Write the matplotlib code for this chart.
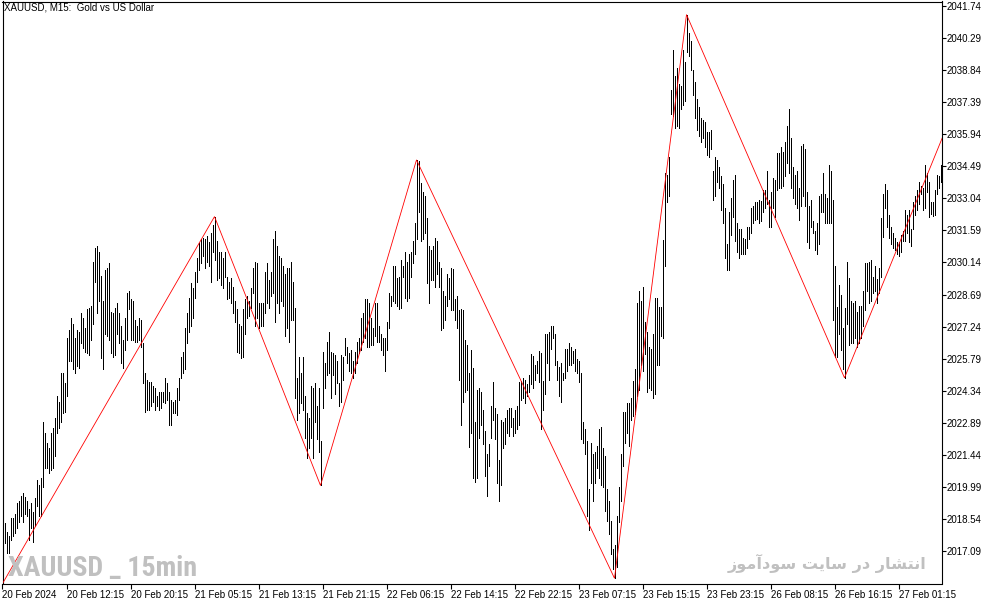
import matplotlib
matplotlib.use("Agg")
import matplotlib.pyplot as plt
from matplotlib import font_manager as fm

# ---------------- data (XAUUSD M15) ----------------
highs = [
 2018.36,2017.95,2017.81,2018.62,2018.58,2018.80,2019.30,2019.39,2019.58,2019.71,
 2019.53,2019.39,2019.03,2019.26,2018.85,2019.49,2020.30,2020.07,2020.39,2022.92,
 2022.42,2021.97,2021.74,2022.46,2022.65,2023.10,2024.13,2023.82,2025.17,2025.13,
 2024.68,2026.75,2027.07,2027.61,2027.38,2026.75,2027.07,2027.02,2027.84,2027.65,
 2027.20,2028.06,2028.10,2028.19,2030.14,2030.81,2030.90,2030.59,2029.55,2028.42,
 2029.78,2029.91,2030.10,2027.88,2027.84,2028.10,2028.33,2027.84,2027.29,2026.62,
 2027.65,2028.74,2028.87,2028.51,2028.42,2027.52,2027.29,2027.65,2027.52,2026.49,
 2025.17,2024.81,2024.72,2024.72,2024.58,2024.45,2024.13,2024.27,2024.27,2024.27,
 2024.94,2024.68,2024.27,2023.91,2023.82,2023.91,2024.45,2024.90,2025.85,2026.08,
 2027.16,2027.84,2028.55,2029.19,2028.97,2029.69,2030.36,2031.00,2031.22,2031.26,
 2031.22,2031.35,2031.04,2031.49,2031.81,2032.21,2031.13,2030.59,2030.59,2030.32,
 2030.59,2029.46,2029.24,2029.42,2029.01,2028.42,2028.06,2027.38,2027.29,2028.06,
 2028.51,2028.64,2028.42,2028.97,2029.87,2030.14,2030.10,2028.33,2028.33,2028.30,
 2029.69,2030.10,2029.33,2029.69,2031.22,2031.58,2030.90,2030.45,2030.36,2030.00,
 2029.64,2029.87,2029.91,2030.14,2029.24,2028.10,2024.94,2025.85,2025.17,2025.85,
 2024.13,2023.33,2023.10,2024.58,2024.49,2024.68,2023.68,2024.49,2022.10,2026.08,
 2025.58,2026.53,2026.98,2026.08,2026.04,2025.94,2025.71,2024.68,2025.94,2025.85,
 2026.71,2026.30,2026.04,2026.17,2025.71,2026.08,2026.53,2026.71,2027.65,2027.84,
 2028.51,2028.51,2028.29,2027.65,2027.16,2028.29,2028.29,2027.29,2026.93,2026.71,
 2026.71,2027.43,2028.74,2028.64,2030.00,2030.00,2029.42,2029.46,2030.23,2030.00,
 2030.59,2030.14,2030.54,2030.59,2031.13,2031.94,2034.77,2034.70,2033.71,2033.30,
 2033.16,2032.13,2030.90,2030.68,2030.90,2031.26,2031.13,2030.14,2029.87,2028.87,
 2028.64,2029.64,2029.42,2029.91,2029.85,2028.51,2028.64,2027.97,2028.06,2027.97,
 2026.62,2026.39,2025.17,2026.17,2025.39,2022.92,2024.36,2024.45,2024.27,2023.50,
 2022.51,2021.51,2021.92,2023.68,2024.72,2023.59,2023.28,2021.24,2023.01,2022.92,
 2023.10,2023.46,2023.59,2023.59,2023.10,2023.46,2023.68,2024.72,2024.77,2024.94,
 2024.85,2024.63,2025.04,2025.99,2025.90,2025.53,2025.71,2026.12,2026.04,2024.77,
 2026.89,2026.89,2026.98,2027.25,2027.29,2026.89,2025.71,2025.44,2025.62,2025.13,
 2026.21,2026.21,2026.48,2026.30,2026.12,2026.21,2025.80,2025.71,2025.13,2022.92,
 2022.60,2022.10,2019.89,2022.01,2021.51,2021.60,2021.83,2022.60,2022.69,2021.74,
 2021.42,2019.89,2019.39,2018.45,2017.18,2017.36,2018.71,2019.98,2021.51,2023.37,
 2023.37,2023.78,2023.78,2024.04,2024.77,2025.35,2028.33,2028.83,2028.42,2029.01,
 2027.47,2026.98,2026.30,2026.21,2026.89,2028.55,2028.55,2028.15,2028.15,2031.17,
 2034.20,2034.11,2034.88,2037.91,2039.75,2038.54,2038.94,2038.18,2038.09,2039.75,
 2039.17,2041.33,2040.52,2040.12,2038.85,2038.27,2037.50,2037.18,2036.64,2036.59,
 2036.50,2036.01,2036.01,2036.14,2034.29,2034.92,2034.75,2034.47,2034.02,2033.66,
 2032.58,2030.95,2032.40,2033.03,2033.88,2034.07,2031.90,2031.67,2031.63,2031.26,
 2031.22,2031.72,2031.76,2032.58,2032.67,2032.89,2032.85,2032.94,2032.90,2033.39,
 2033.39,2034.29,2032.98,2033.34,2033.93,2033.84,2035.06,2035.06,2035.33,2035.11,
 2035.56,2036.32,2037.05,2035.74,2034.43,2034.07,2034.29,2033.52,2035.38,2035.47,
 2035.24,2033.30,2032.71,2032.94,2031.99,2031.58,2031.90,2033.16,2033.25,2034.16,
 2033.25,2033.07,2034.52,2034.29,2032.94,2029.96,2028.15,2029.10,2028.69,2027.20,
 2028.10,2030.14,2029.42,2028.38,2028.29,2028.42,2027.92,2028.19,2028.19,2028.87,
 2030.10,2030.10,2030.14,2030.27,2029.46,2029.96,2029.37,2029.91,2032.13,2033.21,
 2033.66,2033.43,2032.26,2031.76,2031.49,2031.26,2031.04,2031.04,2031.40,2031.54,
 2032.49,2032.26,2032.49,2031.63,2032.85,2033.12,2033.43,2033.75,2033.61,2033.52,
 2034.52,2034.20,2033.75,2032.89,2032.89,2033.43,2034.11,2034.02,2034.56,
]

lows = [
 2017.46,2017.00,2017.00,2017.59,2017.81,2017.91,2018.13,2018.40,2018.71,2018.40,
 2018.80,2018.71,2017.59,2018.13,2017.50,2018.26,2019.16,2018.71,2018.71,2019.98,
 2020.88,2020.84,2020.62,2020.75,2020.84,2021.42,2022.42,2022.65,2022.92,2023.33,
 2023.37,2024.13,2025.71,2025.71,2025.35,2025.13,2025.48,2025.39,2026.49,2026.26,
 2026.08,2026.04,2025.94,2026.62,2027.38,2029.24,2027.84,2028.42,2025.81,2025.35,
 2026.93,2026.84,2026.62,2026.04,2025.85,2025.94,2026.93,2026.49,2025.58,2025.39,
 2026.17,2026.62,2028.06,2026.62,2026.62,2026.53,2026.53,2026.62,2026.30,2024.68,
 2023.37,2023.46,2023.46,2023.68,2023.82,2023.46,2023.68,2023.46,2023.59,2023.82,
 2023.78,2023.91,2022.78,2022.78,2023.33,2023.33,2023.23,2023.91,2024.90,2025.13,
 2025.35,2026.49,2026.98,2027.29,2027.61,2028.55,2029.24,2029.78,2030.10,2030.45,
 2029.91,2030.14,2030.00,2029.24,2030.59,2030.23,2029.33,2029.42,2029.10,2028.97,
 2029.46,2028.51,2028.55,2028.29,2027.84,2027.43,2026.08,2026.04,2025.81,2025.85,
 2026.93,2027.61,2027.74,2028.10,2028.74,2027.29,2027.65,2027.20,2027.29,2027.25,
 2027.84,2028.33,2028.10,2028.64,2028.78,2027.43,2028.33,2027.84,2028.42,2028.19,
 2026.84,2027.16,2026.53,2027.52,2027.52,2024.00,2023.01,2023.33,2023.78,2023.46,
 2022.23,2021.33,2021.74,2022.23,2021.33,2022.92,2022.19,2021.56,2020.07,2023.55,
 2024.45,2025.04,2025.17,2024.00,2025.04,2024.22,2024.68,2023.68,2023.82,2024.81,
 2025.94,2025.58,2025.26,2025.13,2024.94,2025.17,2025.62,2026.04,2026.17,2026.53,
 2026.71,2026.30,2026.30,2026.39,2026.39,2026.84,2026.53,2026.53,2026.17,2025.94,
 2025.26,2026.17,2027.16,2028.19,2028.42,2028.29,2028.19,2028.06,2028.10,2029.46,
 2028.55,2028.42,2028.55,2029.46,2030.10,2030.54,2031.22,2032.40,2031.13,2031.22,
 2031.45,2029.19,2028.29,2029.33,2029.33,2029.01,2029.64,2029.01,2027.07,2027.16,
 2027.52,2028.19,2028.51,2027.97,2028.00,2027.52,2027.16,2024.81,2022.78,2023.82,
 2024.27,2024.36,2021.79,2022.46,2020.39,2020.21,2020.39,2022.23,2022.78,2021.92,
 2020.48,2019.58,2020.97,2022.23,2023.01,2022.19,2020.16,2019.39,2020.07,2021.74,
 2021.92,2022.42,2022.32,2022.69,2022.32,2022.42,2022.60,2022.78,2023.95,2024.04,
 2023.78,2024.09,2024.27,2024.63,2024.45,2024.85,2025.13,2024.72,2022.60,2023.50,
 2024.18,2025.62,2024.85,2026.21,2026.71,2025.53,2024.85,2024.09,2023.86,2024.85,
 2024.94,2025.22,2025.53,2025.53,2025.62,2025.22,2025.13,2024.72,2022.19,2022.01,
 2021.51,2018.71,2018.04,2020.16,2019.39,2020.16,2020.84,2020.39,2020.07,2019.98,
 2018.90,2018.45,2017.86,2016.96,2016.28,2015.88,2016.37,2018.40,2019.39,2020.93,
 2022.01,2022.42,2021.83,2023.01,2023.19,2023.28,2024.09,2024.36,2025.53,2025.22,
 2025.99,2024.27,2024.45,2024.36,2024.04,2024.18,2025.53,2025.53,2026.80,2026.71,
 2030.00,2032.89,2033.12,2036.82,2036.73,2036.23,2036.32,2036.23,2037.09,2037.27,
 2037.41,2039.62,2039.44,2038.85,2037.68,2036.64,2036.14,2035.83,2035.56,2035.74,
 2035.33,2034.97,2034.88,2035.24,2032.94,2033.16,2033.75,2033.52,2032.49,2031.90,
 2030.32,2029.78,2029.78,2031.36,2032.17,2031.13,2030.59,2030.36,2030.54,2030.54,
 2030.50,2030.77,2031.22,2031.45,2031.90,2032.04,2032.08,2031.90,2032.00,2032.40,
 2032.62,2032.80,2031.72,2031.72,2032.58,2032.17,2033.39,2033.52,2033.52,2033.61,
 2034.02,2034.61,2034.16,2033.48,2033.07,2032.80,2032.58,2032.04,2032.71,2033.12,
 2032.71,2031.04,2030.77,2031.72,2031.49,2030.68,2030.54,2030.99,2032.40,2032.40,
 2031.90,2031.90,2031.90,2031.94,2027.52,2025.85,2025.85,2026.93,2026.17,2025.35,
 2024.93,2027.38,2026.39,2026.48,2026.48,2026.75,2026.30,2026.48,2026.75,2027.29,
 2027.97,2028.87,2028.29,2028.42,2028.74,2028.87,2028.33,2028.74,2029.46,2031.31,
 2032.62,2031.76,2031.26,2030.99,2030.81,2030.68,2030.54,2030.41,2030.59,2031.09,
 2031.13,2031.45,2031.04,2030.86,2031.67,2032.26,2032.49,2032.80,2033.25,2032.49,
 2032.58,2033.30,2032.17,2032.31,2032.22,2032.26,2033.21,2033.52,2033.79,
]

# ZigZag vertices: bar index and price (first/last lie just outside the view)
zz_bars = [-1, 105, 158, 206, 305, 341, 420, 469]
zz_prices = [2015.64, 2032.21, 2020.07, 2034.77, 2015.88, 2041.33, 2024.93, 2035.79]

price_ticks = [2017.09, 2018.54, 2019.99, 2021.44, 2022.89, 2024.34, 2025.79,
               2027.24, 2028.69, 2030.14, 2031.59, 2033.04, 2034.49, 2035.94,
               2037.39, 2038.84, 2040.29, 2041.74]
time_labels = ["20 Feb 2024", "20 Feb 12:15", "20 Feb 20:15", "21 Feb 05:15",
               "21 Feb 13:15", "21 Feb 21:15", "22 Feb 06:15", "22 Feb 14:15",
               "22 Feb 22:15", "23 Feb 07:15", "23 Feb 15:15", "23 Feb 23:15",
               "26 Feb 08:15", "26 Feb 16:15", "27 Feb 01:15"]
bars_per_label = 32

title_text = "XAUUSD, M15:  Gold vs US Dollar"
watermark_left = "XAUUSD _ 15min"
watermark_right = "انتشار در سایت سودآموز"

n = min(len(highs), len(lows))
bar_idx = list(range(n))

# -------------- simple Arabic-script shaping for the watermark ------------
FORMS = {
    'ا': ('\uFE8D', '\uFE8E', None, None),
    'آ': ('\uFE81', '\uFE82', None, None),
    'ن': ('\uFEE5', '\uFEE6', '\uFEE7', '\uFEE8'),
    'ت': ('\uFE95', '\uFE96', '\uFE97', '\uFE98'),
    'ش': ('\uFEB5', '\uFEB6', '\uFEB7', '\uFEB8'),
    'ر': ('\uFEAD', '\uFEAE', None, None),
    'د': ('\uFEA9', '\uFEAA', None, None),
    'س': ('\uFEB1', '\uFEB2', '\uFEB3', '\uFEB4'),
    'ی': ('\uFBFC', '\uFBFD', '\uFBFE', '\uFBFF'),
    'و': ('\uFEED', '\uFEEE', None, None),
    'م': ('\uFEE1', '\uFEE2', '\uFEE3', '\uFEE4'),
    'ز': ('\uFEAF', '\uFEB0', None, None),
}


def shape_rtl(text):
    out = []
    for i, ch in enumerate(text):
        if ch not in FORMS:
            out.append(ch)
            continue
        prev = text[i - 1] if i > 0 else ' '
        nxt = text[i + 1] if i + 1 < len(text) else ' '
        iso, fin, ini, med = FORMS[ch]
        jp = prev in FORMS and FORMS[prev][2] is not None
        jn = nxt in FORMS and ini is not None
        if jp and jn:
            out.append(med)
        elif jp:
            out.append(fin)
        elif jn:
            out.append(ini)
        else:
            out.append(iso)
    return ''.join(reversed(out))


# choose a narrow bold face for the left watermark if one is installed
_fonts = fm.fontManager.ttflist
_names = {f.name for f in _fonts}
wm_family, wm_stretch = "DejaVu Sans", "normal"
if "Liberation Sans Narrow" in _names:
    wm_family = "Liberation Sans Narrow"
elif "Roboto Condensed" in _names:
    wm_family = "Roboto Condensed"
elif any(f.name == "DejaVu Sans" and f.stretch == "condensed" for f in _fonts):
    wm_stretch = "condensed"
elif "Roboto" in _names:
    wm_family = "Roboto"

# ---------------- figure ----------------
W, H = 994, 605
fig = plt.figure(figsize=(W / 100, H / 100), dpi=100, facecolor="white")
ax = fig.add_axes([2.5 / W, 21.5 / H, 939 / W, 582 / H])
ax.set_facecolor("white")

ax.vlines(bar_idx, lows[:n], highs[:n], colors="black", linewidth=0.72,
          antialiased=False, zorder=2)
ax.plot(zz_bars, zz_prices, color="#ff0000", linewidth=0.6,
        antialiased=True, solid_joinstyle="miter", zorder=3)

ax.set_xlim(-1, 468.5)
ax.set_ylim(2015.644, 2041.921)

for s in ax.spines.values():
    s.set_color("black")
    s.set_linewidth(0.8)

# right price axis
ax.yaxis.tick_right()
ax.set_yticks(price_ticks)
ax.set_yticklabels([f"{p:.2f}" for p in price_ticks])
ax.tick_params(axis="y", which="both", direction="out", length=3, width=0.8,
               pad=1, labelsize=7, colors="black", left=False)

# bottom time axis
tick_pos = [bars_per_label * m - 1 for m in range(len(time_labels))]
ax.set_xticks(tick_pos)
ax.set_xticklabels(time_labels, ha="left")
ax.tick_params(axis="x", direction="out", length=3.5, width=0.8, pad=1.5,
               labelsize=7, colors="black")
for lab in ax.get_xticklabels() + ax.get_yticklabels():
    lab.set_family(["Liberation Sans", "DejaVu Sans"])

# title in the corner
fig.text(4 / W, 1 - 3 / H, title_text, ha="left", va="top", fontsize=7,
         family=["Liberation Sans", "DejaVu Sans"], color="black")

# watermarks
t_left = fig.text(8 / W, 1 - 576 / H, watermark_left, ha="left", va="baseline",
                  fontsize=22, fontweight="bold", color="#c0c0c0",
                  family=[wm_family, "DejaVu Sans"], fontstretch=wm_stretch,
                  zorder=1)
t_right = fig.text(926 / W, 1 - 569 / H, shape_rtl(watermark_right), ha="right",
                   va="baseline", fontsize=15, fontweight="bold",
                   color="#c0c0c0", family=["DejaVu Sans"], zorder=1)

# fit watermark widths to the reference's extent
renderer = fig.canvas.get_renderer()
for txt, target_w, max_size in ((t_left, 190.0, 24.0), (t_right, 199.0, 16.0)):
    w = txt.get_window_extent(renderer).width
    if w > 0:
        txt.set_fontsize(min(max_size, txt.get_fontsize() * target_w / w))

fig.savefig("out.png", dpi=100, facecolor="white")
